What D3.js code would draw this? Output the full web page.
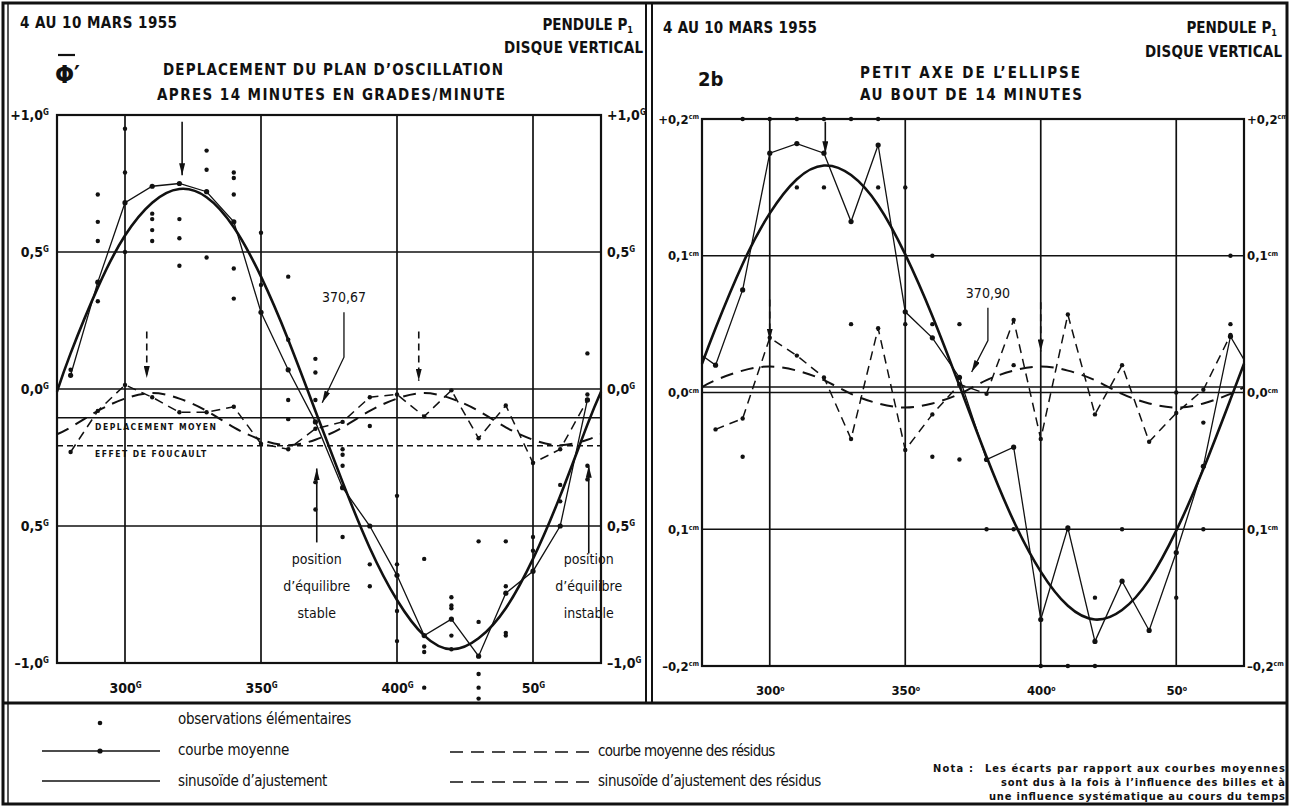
<!DOCTYPE html>
<html lang="fr">
<head>
<meta charset="UTF-8">
<style>
    body { margin: 0; background: #fff; }
    svg { display: block; }
    text { font-family: "DejaVu Sans Condensed", "DejaVu Sans", sans-serif; fill: #111; }
    .title { font-size: 15px; font-weight: bold; }
    .axis text { font-size: 14px; font-weight: bold; }
    .sup { font-size: 8px; }
    .grid line { stroke: #111; stroke-width: 1.7; }
    .frame { fill: none; stroke: #111; stroke-width: 2.2; }
    .fit { fill: none; stroke: #111; stroke-width: 2.6; }
    .mean { fill: none; stroke: #111; stroke-width: 1.3; }
    .resid { fill: none; stroke: #111; stroke-width: 1.5; stroke-dasharray: 9 6; }
    .residfit { fill: none; stroke: #111; stroke-width: 2; stroke-dasharray: 13 8; }
    .ref { stroke: #111; stroke-width: 1.6; }
    .small { font-size: 8.5px; font-weight: bold; letter-spacing: 1.5px; }
    .note { font-size: 14px; }
    .legend { font-size: 15px; letter-spacing: 0.6px; }
    .nota { font-size: 11px; font-weight: bold; }
</style>
<script src="https://cdn.jsdelivr.net/npm/d3@7"></script>
</head>
<body>
<svg width="1291" height="807"></svg>
<script>
    // grades (x) of the mean curves, every 10 grades
    var grades = [280, 290, 300, 310, 320, 330, 340, 350, 360, 370, 380, 390, 400, 410, 420, 430, 440, 450, 460, 470];
    // grades where the fitted sinusoids were read, edge to edge
    var fitGrades = [275, 280, 290, 300, 310, 320, 330, 340, 350, 360, 370, 380, 390, 400, 410, 420, 430, 440, 450, 460, 470, 475];

    var xTicks = [300, 350, 400, 450];
    var xLabelsL = ["300", "350", "400", "50"];
    var xLabelsR = ["300", "350", "400", "50"];

    // --- left: deplacement du plan d'oscillation (grades/minute)
    var yTicksL = [1, 0.5, 0, -0.5, -1];
    var yLabelsL = ["+1,0", "0,5", "0,0", "0,5", "\u20131,0"];
    var meanL = [0.05, 0.39, 0.68, 0.74, 0.75, 0.72, 0.61, 0.28, 0.07, -0.12, -0.36, -0.50, -0.68, -0.90, -0.84, -0.975, -0.745, -0.665, -0.50, -0.04];
    var fitL = [-0.01, 0.13, 0.37, 0.56, 0.68, 0.73, 0.70, 0.59, 0.41, 0.18, -0.08, -0.34, -0.58, -0.77, -0.90, -0.95, -0.91, -0.80, -0.62, -0.39, -0.13, -0.01];
    var residL = [-0.23, -0.08, 0.015, -0.03, -0.085, -0.085, -0.065, -0.20, -0.22, -0.145, -0.12, -0.03, -0.02, -0.10, -0.005, -0.18, -0.06, -0.27, -0.22, -0.04];
    var residFitL = [-0.165, -0.14, -0.08, -0.035, -0.015, -0.035, -0.08, -0.14, -0.185, -0.205, -0.185, -0.14, -0.08, -0.035, -0.015, -0.035, -0.08, -0.14, -0.185, -0.205, -0.185, -0.165];
    var moyenL = -0.105;
    var foucaultL = -0.207;
    var obsL = [
        [280, 0.07], [290, 0.71], [290, 0.61], [290, 0.54], [290, 0.32],
        [300, 0.95], [300, 0.79], [300, 0.50],
        [310, 0.64], [310, 0.62], [310, 0.58], [310, 0.54],
        [320, 0.62], [320, 0.55], [320, 0.45],
        [330, 0.87], [330, 0.80], [330, 0.48],
        [340, 0.79], [340, 0.77], [340, 0.71], [340, 0.44], [340, 0.33],
        [350, 0.57], [350, 0.38],
        [360, 0.41], [360, 0.18], [360, -0.04], [360, -0.11],
        [370, 0.11], [370, 0.06], [370, -0.04], [370, -0.34], [370, -0.44],
        [380, -0.22], [380, -0.24], [380, -0.28], [380, -0.54],
        [390, -0.135], [390, -0.64], [390, -0.72],
        [400, -0.39], [400, -0.64], [400, -0.81], [400, -0.92],
        [410, -0.62], [410, -0.94], [410, -0.96], [410, -1.09],
        [420, -0.76], [420, -0.79], [420, -0.80], [420, -0.90], [420, -0.95],
        [430, -0.556], [430, -0.85], [430, -1.04], [430, -1.09], [430, -1.13],
        [440, -0.556], [440, -0.72], [440, -0.89], [440, -0.90],
        [450, -0.54], [450, -0.59],
        [460, -0.35], [460, -0.41],
        [470, 0.13], [470, -0.02], [470, -0.28], [470, -0.33]
    ];

    // --- right: petit axe de l'ellipse (cm)
    var yTicksR = [0.2, 0.1, 0, -0.1, -0.2];
    var yLabelsR = ["+0,2", "0,1", "0,0", "0,1", "\u20130,2"];
    var meanGradesR = [275].concat(grades, [475]);
    var meanR = [0.027, 0.020, 0.075, 0.175, 0.182, 0.175, 0.125, 0.181, 0.059, 0.040, 0.011, -0.049, -0.040, -0.166, -0.099, -0.182, -0.138, -0.174, -0.117, -0.054, 0.041, 0.024];
    var fitR = [0.021, 0.047, 0.094, 0.131, 0.156, 0.166, 0.159, 0.137, 0.101, 0.056, 0.005, -0.047, -0.094, -0.131, -0.156, -0.166, -0.159, -0.137, -0.101, -0.056, -0.005, 0.021];
    var residR = [-0.027, -0.019, 0.040, 0.027, 0.011, -0.034, 0.047, -0.042, -0.016, 0.006, -0.001, 0.053, -0.034, 0.057, -0.016, 0.020, -0.036, -0.015, 0.002, 0.042];
    var residFitR = [0.004, 0.009, 0.016, 0.019, 0.016, 0.009, -0.001, -0.008, -0.011, -0.008, -0.001, 0.009, 0.016, 0.019, 0.016, 0.009, -0.001, -0.008, -0.011, -0.008, -0.001, 0.004];
    var moyenR = 0.004;
    var obsR = [
        [290, 0.2], [300, 0.2], [310, 0.2], [320, 0.2], [330, 0.2], [340, 0.2],
        [310, 0.15], [320, 0.15], [340, 0.15], [350, 0.15],
        [360, 0.1], [470, 0.1],
        [330, 0.05], [350, 0.05], [360, 0.05], [370, 0.05], [470, 0.05],
        [390, 0.02], [450, 0.0], [460, -0.022],
        [290, -0.047], [360, -0.047], [370, -0.049],
        [380, -0.1], [390, -0.1], [410, -0.1], [430, -0.1], [460, -0.1],
        [420, -0.15], [450, -0.15],
        [400, -0.2], [410, -0.2], [420, -0.2]
    ];

    var svg = d3.select("svg");
    svg.append("rect").attr("width", 1291).attr("height", 807).attr("fill", "#fff");

    var defs = svg.append("defs");
    defs.append("marker").attr("id", "head")
        .attr("viewBox", "0 0 12 6").attr("refX", 12).attr("refY", 3)
        .attr("markerWidth", 12).attr("markerHeight", 6)
        .attr("markerUnits", "userSpaceOnUse").attr("orient", "auto")
        .append("path").attr("d", "M0,0L12,3L0,6Z").attr("fill", "#111");

    // outer frame of the plate
    var frame = svg.append("g").attr("fill", "none").attr("stroke", "#111");
    frame.append("rect").attr("x", 3).attr("y", 3).attr("width", 1284).attr("height", 801).attr("stroke-width", 3);
    frame.append("line").attr("x1", 8).attr("y1", 3).attr("x2", 8).attr("y2", 804).attr("stroke-width", 1.4);
    frame.append("line").attr("x1", 646).attr("y1", 3).attr("x2", 646).attr("y2", 703).attr("stroke-width", 2);
    frame.append("line").attr("x1", 652).attr("y1", 3).attr("x2", 652).attr("y2", 703).attr("stroke-width", 2);
    frame.append("line").attr("x1", 3).attr("y1", 703).attr("x2", 1287).attr("y2", 703).attr("stroke-width", 3);

    function supText(sel, labels, sup) {
        sel.attr("font-family", null).attr("font-size", null);
        sel.select(".domain").remove();
        sel.selectAll(".tick text").each(function(d, i) {
            var t = d3.select(this).text(null);
            t.append("tspan").text(labels[i]);
            t.append("tspan").attr("class", "sup").attr("dy", "-0.6em").text(sup);
        });
    }

    function drawPanel(p) {
        var x = d3.scaleLinear().domain([275, 475]).range([p.left, p.right]);
        var y = d3.scaleLinear().domain(p.yDomain).range([p.bottom, p.top]);
        var g = svg.append("g");

        g.append("g").attr("class", "grid").selectAll("line")
            .data(xTicks).enter().append("line")
            .attr("x1", function(d) { return x(d); }).attr("x2", function(d) { return x(d); })
            .attr("y1", p.top).attr("y2", p.bottom);
        g.append("g").attr("class", "grid").selectAll("line")
            .data(p.yTicks).enter().append("line")
            .attr("x1", p.left).attr("x2", p.right)
            .attr("y1", function(d) { return y(d); }).attr("y2", function(d) { return y(d); });
        g.append("rect").attr("class", "frame")
            .attr("x", p.left).attr("y", p.top)
            .attr("width", p.right - p.left).attr("height", p.bottom - p.top);

        var ax = g.append("g").attr("class", "axis").attr("transform", "translate(" + p.left + ",0)")
            .call(d3.axisLeft(y).tickValues(p.yTicks).tickSize(0).tickPadding(p.padLeft));
        supText(ax, p.yLabels, p.ySup);
        ax = g.append("g").attr("class", "axis").attr("transform", "translate(" + p.right + ",0)")
            .call(d3.axisRight(y).tickValues(p.yTicks).tickSize(0).tickPadding(p.padRight));
        supText(ax, p.yLabels, p.ySup);
        ax = g.append("g").attr("class", "axis").attr("transform", "translate(0," + p.bottom + ")")
            .call(d3.axisBottom(x).tickValues(xTicks).tickSize(0).tickPadding(20));
        supText(ax, p.xLabels, p.xSup);

        // reference lines (deplacement moyen, effet de Foucault)
        p.refs.forEach(function(r) {
            g.append("line").attr("class", "ref")
                .attr("x1", p.left).attr("x2", p.right)
                .attr("y1", y(r.v)).attr("y2", y(r.v))
                .attr("stroke-dasharray", r.dashed ? "6 4" : null);
        });

        var line = d3.line().x(function(d) { return x(d[0]); }).y(function(d) { return y(d[1]); });
        var smooth = d3.line().curve(d3.curveNatural)
            .x(function(d) { return x(d[0]); }).y(function(d) { return y(d[1]); });

        var fitPts = d3.zip(fitGrades, p.fit);
        var meanPts = d3.zip(p.meanGrades, p.mean);
        var residPts = d3.zip(grades, p.resid);
        var residFitPts = d3.zip(fitGrades, p.residFit);

        g.append("path").datum(residFitPts).attr("class", "residfit").attr("d", smooth);
        g.append("path").datum(residPts).attr("class", "resid").attr("d", line);
        g.append("path").datum(fitPts).attr("class", "fit").attr("d", smooth);
        g.append("path").datum(meanPts).attr("class", "mean").attr("d", line);

        g.append("g").selectAll("circle")
            .data(meanPts.filter(function(d) { return d[0] >= 280 && d[0] <= 470; }))
            .enter().append("circle")
            .attr("cx", function(d) { return x(d[0]); }).attr("cy", function(d) { return y(d[1]); })
            .attr("r", 2.6).attr("fill", "#111");
        g.append("g").selectAll("circle")
            .data(residPts).enter().append("circle")
            .attr("cx", function(d) { return x(d[0]); }).attr("cy", function(d) { return y(d[1]); })
            .attr("r", 2.2).attr("fill", "#111");
        g.append("g").selectAll("circle")
            .data(p.obs).enter().append("circle")
            .attr("cx", function(d) { return x(d[0]); }).attr("cy", function(d) { return y(d[1]); })
            .attr("r", 2.2).attr("fill", "#111");

        // arrows marking maxima / zero crossings
        g.append("g").selectAll("line")
            .data(p.arrows).enter().append("line")
            .attr("x1", function(d) { return x(d.g); }).attr("x2", function(d) { return x(d.g); })
            .attr("y1", function(d) { return y(d.from); }).attr("y2", function(d) { return y(d.to); })
            .attr("stroke", "#111").attr("stroke-width", 1.6)
            .attr("stroke-dasharray", function(d) { return d.dashed ? "7 5" : null; })
            .attr("marker-end", "url(#head)");

        // zero crossing value with its leader
        var c = p.cross;
        g.append("text").attr("class", "note")
            .attr("x", x(c.lead[0][0])).attr("y", y(c.lead[0][1]) - 10)
            .attr("text-anchor", "middle").text(c.label);
        g.append("path").datum(c.lead).attr("d", line)
            .attr("fill", "none").attr("stroke", "#111").attr("stroke-width", 1.3)
            .attr("marker-end", "url(#head)");

        return { x: x, y: y, g: g };
    }

    var L = drawPanel({
        left: 57, right: 601, top: 115, bottom: 663, padLeft: 8, padRight: 6,
        yDomain: [-1, 1], yTicks: yTicksL, yLabels: yLabelsL, ySup: "G",
        xLabels: xLabelsL, xSup: "G",
        meanGrades: grades, mean: meanL, fit: fitL, resid: residL, residFit: residFitL, obs: obsL,
        refs: [{ v: moyenL, dashed: false }, { v: foucaultL, dashed: true }],
        arrows: [
            { g: 321, from: 0.975, to: 0.78, dashed: false },
            { g: 308, from: 0.21, to: 0.04, dashed: true },
            { g: 408, from: 0.21, to: 0.03, dashed: true },
            { g: 370.5, from: -0.56, to: -0.29, dashed: false },
            { g: 470.5, from: -0.60, to: -0.28, dashed: false }
        ],
        cross: { label: "370,67", lead: [[380.5, 0.28], [380.5, 0.116], [372.5, -0.05]] }
    });

    var R = drawPanel({
        left: 702, right: 1244, top: 119, bottom: 666, padLeft: 3, padRight: 3,
        yDomain: [-0.2, 0.2], yTicks: yTicksR, yLabels: yLabelsR, ySup: "cm",
        xLabels: xLabelsR, xSup: "o",
        meanGrades: meanGradesR, mean: meanR, fit: fitR, resid: residR, residFit: residFitR, obs: obsR,
        refs: [{ v: moyenR, dashed: false }],
        arrows: [
            { g: 320.5, from: 0.198, to: 0.175, dashed: false },
            { g: 300, from: 0.068, to: 0.038, dashed: true },
            { g: 400, from: 0.066, to: 0.030, dashed: true }
        ],
        cross: { label: "370,90", lead: [[380.5, 0.062], [380.5, 0.038], [374.5, 0.015]] }
    });
    // right panel labels are squeezed against the plate edge
    R.g.selectAll(".axis text").style("font-size", "13px");
    R.g.selectAll(".axis .sup").style("font-size", "7px");

    // small labels on the reference lines
    L.g.append("text").attr("class", "small")
        .attr("x", L.x(289)).attr("y", L.y(moyenL) + 12).text("DEPLACEMENT MOYEN");
    L.g.append("text").attr("class", "small")
        .attr("x", L.x(289)).attr("y", L.y(foucaultL) + 11).text("EFFET DE FOUCAULT");

    // position d'equilibre labels
    [["position", "d\u2019\u00e9quilibre", "stable", 370.5], ["position", "d\u2019\u00e9quilibre", "instable", 470.5]]
        .forEach(function(lab) {
            var t = L.g.append("text").attr("class", "note").attr("text-anchor", "middle");
            for (var i = 0; i < 3; i++) {
                t.append("tspan").attr("x", L.x(lab[3])).attr("y", L.y(-0.64) + i * 27).text(lab[i]);
            }
        });

    // headings
    function title(x, y, s, anchor, len, cls) {
        var t = svg.append("text").attr("class", cls || "title").attr("x", x).attr("y", y)
            .attr("text-anchor", anchor || "start").text(s);
        if (len) t.attr("textLength", len).attr("lengthAdjust", "spacing");
        return t;
    }
    title(20, 28, "4 AU 10 MARS 1955", "start", 157);
    title(663, 33, "4 AU 10 MARS 1955", "start", 154);
    title(163, 75, "DEPLACEMENT DU PLAN D\u2019OSCILLATION", "start", 340);
    title(157, 100, "APRES 14 MINUTES EN GRADES/MINUTE", "start", 348);
    title(860, 78, "PETIT AXE DE L\u2019ELLIPSE", "start", 220);
    title(860, 100, "AU BOUT DE 14 MINUTES", "start", 222);
    title(643, 53, "DISQUE VERTICAL", "end", 139);
    title(1282, 57, "DISQUE VERTICAL", "end", 137);
    [[633, 30], [1277, 33]].forEach(function(p) {
        var t = svg.append("text").attr("class", "title").attr("x", p[0]).attr("y", p[1]).attr("text-anchor", "end");
        t.append("tspan").text("PENDULE P");
        t.append("tspan").attr("font-size", "9px").attr("dy", 3).text("1");
    });
    svg.append("text").attr("x", 698).attr("y", 86).attr("font-size", 20).attr("font-weight", "bold").text("2b");
    // phi bar prime
    svg.append("text").attr("x", 55).attr("y", 83).attr("font-size", 25).attr("font-weight", "bold").text("\u03a6\u2032");
    svg.append("line").attr("x1", 58).attr("x2", 75).attr("y1", 55).attr("y2", 55).attr("stroke", "#111").attr("stroke-width", 2.2);

    // legend
    var lg = svg.append("g");
    lg.append("circle").attr("cx", 100).attr("cy", 723).attr("r", 2.3).attr("fill", "#111");
    lg.append("line").attr("x1", 42).attr("x2", 160).attr("y1", 751).attr("y2", 751).attr("stroke", "#111").attr("stroke-width", 1.4);
    lg.append("circle").attr("cx", 100).attr("cy", 751).attr("r", 2.6).attr("fill", "#111");
    lg.append("line").attr("x1", 42).attr("x2", 160).attr("y1", 781).attr("y2", 781).attr("stroke", "#111").attr("stroke-width", 1.6);
    lg.append("line").attr("x1", 450).attr("x2", 590).attr("y1", 752).attr("y2", 752).attr("stroke", "#111").attr("stroke-width", 1.6).attr("stroke-dasharray", "13 8");
    lg.append("line").attr("x1", 450).attr("x2", 590).attr("y1", 782).attr("y2", 782).attr("stroke", "#111").attr("stroke-width", 1.6).attr("stroke-dasharray", "13 8");
    title(178, 724, "observations \u00e9l\u00e9mentaires", "start", 174, "legend");
    title(178, 755, "courbe moyenne", "start", 112, "legend");
    title(178, 786, "sinuso\u00efde d\u2019ajustement", "start", 150, "legend");
    title(598, 756, "courbe moyenne des r\u00e9sidus", "start", 178, "legend");
    title(598, 786, "sinuso\u00efde d\u2019ajustement des r\u00e9sidus", "start", 224, "legend");
    title(933, 772, "Nota :", "start", 40, "nota");
    title(1285, 772, "Les \u00e9carts par rapport aux courbes moyennes", "end", 300, "nota");
    title(1285, 786, "sont dus \u00e0 la fois \u00e0 l\u2019influence des billes et \u00e0", "end", 284, "nota");
    title(1285, 800, "une influence syst\u00e9matique au cours du temps", "end", 296, "nota");
</script>
</body>
</html>
